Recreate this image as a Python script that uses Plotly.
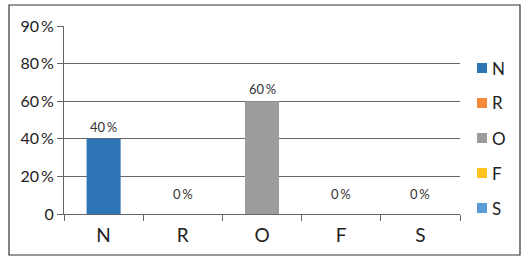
import plotly.graph_objects as go

categories = ["N", "R", "O", "F", "S"]
values = [40, 0, 60, 0, 0]
bar_labels = ["40\u2009%", "0\u2009%", "60\u2009%", "0\u2009%", "0\u2009%"]
colors = ["#2E75B6", "#F58A3D", "#9A9D9A", "#FFC21E", "#5B9BD5"]
ytick_vals = [0, 20, 40, 60, 80, 100]
ytick_text = ["0", "20\u2009%", "40\u2009%", "60\u2009%", "80\u2009%", "90\u2009%"]

FONT = "Lato"
# plot area in px: x 64..460, y 26..214
PW, PH = 396.0, 188.0

fig = go.Figure()
shapes = []
for i, (c, v, col) in enumerate(zip(categories, values, colors)):
    fig.add_trace(go.Bar(
        x=[c], y=[v], name=c, marker=dict(color=col, line=dict(width=0)),
        width=0.43, showlegend=False,
    ))
    fig.add_annotation(
        x=c, y=v, text=bar_labels[i], showarrow=False, yanchor="bottom",
        yshift=2 if v > 0 else 10,
        font=dict(family=FONT, size=13, color="#333333"),
    )
    # manual legend entry
    yc = 68 + 35 * i
    shapes.append(dict(
        type="rect", xref="paper", yref="paper",
        x0=(477 - 64) / PW, x1=(487 - 64) / PW,
        y0=(214 - (yc + 5)) / PH, y1=(214 - (yc - 5)) / PH,
        fillcolor=col, line=dict(width=0),
    ))
    fig.add_annotation(
        xref="paper", yref="paper", x=(490 - 64) / PW, y=(214 - yc) / PH,
        xanchor="left", yanchor="middle", text=c, showarrow=False,
        font=dict(family=FONT, size=17, color="#222222"),
    )

shapes.append(dict(
    type="rect", xref="paper", yref="paper",
    x0=(9 - 64) / PW, x1=(520 - 64) / PW,
    y0=(214 - 255) / PH, y1=(214 - 5) / PH,
    line=dict(color="#333333", width=1.2), fillcolor="rgba(0,0,0,0)",
    layer="below",
))

fig.update_layout(
    width=529, height=260,
    margin=dict(l=64, r=69, t=26, b=46),
    paper_bgcolor="white", plot_bgcolor="white",
    barmode="overlay",
    showlegend=False,
    font=dict(family=FONT, color="#222222"),
    xaxis=dict(
        categoryorder="array", categoryarray=categories,
        showline=True, linecolor="#666666", linewidth=1,
        ticks="outside", tickson="boundaries", ticklen=6, tickcolor="#666666",
        showgrid=False, tickfont=dict(family=FONT, size=19, color="#222222"),
        ticklabelstandoff=4,
        range=[-0.5, 4.5],
    ),
    yaxis=dict(
        range=[0, 100], tickvals=ytick_vals, ticktext=ytick_text,
        showline=True, linecolor="#666666", linewidth=1,
        ticks="outside", ticklen=6, tickcolor="#666666",
        showgrid=True, gridcolor="#666666", gridwidth=1,
        zeroline=False,
        tickfont=dict(family=FONT, size=16, color="#222222"),
    ),
    shapes=shapes,
)

fig.write_html("out.html")
